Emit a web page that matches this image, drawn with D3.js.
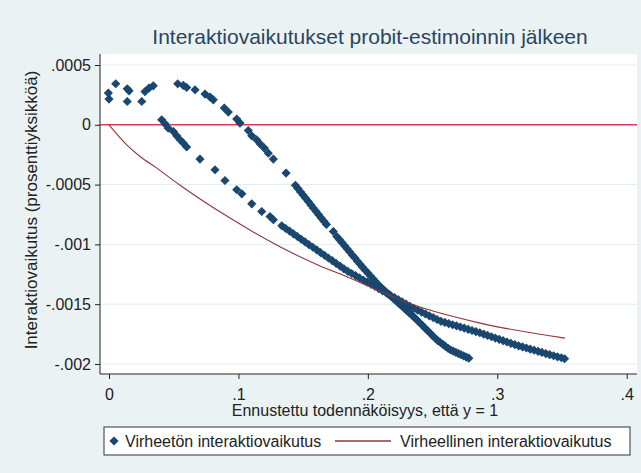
<!DOCTYPE html>
<html>
<head>
<meta charset="utf-8">
<script src="https://cdnjs.cloudflare.com/ajax/libs/d3/7.8.5/d3.min.js"></script>
<style>
  body { margin: 0; background: #eaf2f3; }
  text { font-family: "Liberation Sans", Arial, sans-serif; }
</style>
</head>
<body>
<div id="container"></div>
<script>
// scatter: correct interaction effect as [p, effect]
const startCluster = [[-0.0005, 0.000265], [0.0000, 0.000215], [0.0052, 0.000343], [0.0141, 0.000301], [0.0155, 0.000284],
  [0.0141, 0.000195], [0.0253, 0.000195], [0.0278, 0.000278], [0.0309, 0.000307], [0.0342, 0.000326]];

const steepBranch = [[0.0531, 0.000343], [0.0574, 0.000329], [0.0600, 0.000312], [0.0665, 0.000293], [0.0742, 0.000257],
  [0.0781, 0.000232], [0.0806, 0.000209], [0.0891, 0.000140], [0.0922, 0.000106], [0.0987, 0.000048], [0.1012, 0.000014],
  [0.1076, -0.000048], [0.1103, -0.000092], [0.1141, -0.000125], [0.1167, -0.000159], [0.1200, -0.000195], [0.1231, -0.000237],
  [0.1270, -0.000287], [0.1368, -0.000404],
  [0.144, -0.000506], [0.146, -0.000533], [0.148, -0.000561], [0.150, -0.000588], [0.152, -0.000615], [0.154, -0.000642],
  [0.156, -0.000670], [0.158, -0.000697], [0.160, -0.000724], [0.162, -0.000752], [0.164, -0.000779], [0.166, -0.000806],
  [0.168, -0.000833], [0.1733, -0.000892],
  [0.176, -0.000934], [0.178, -0.000960], [0.180, -0.000985], [0.182, -0.001011], [0.184, -0.001037], [0.186, -0.001063],
  [0.188, -0.001089], [0.190, -0.001114], [0.192, -0.001140], [0.194, -0.001166], [0.196, -0.001192], [0.198, -0.001216],
  [0.200, -0.001240], [0.202, -0.001264], [0.204, -0.001288], [0.206, -0.001312], [0.208, -0.001335], [0.210, -0.001358],
  [0.212, -0.001377], [0.214, -0.001397], [0.216, -0.001416], [0.218, -0.001436], [0.220, -0.001455], [0.222, -0.001474],
  [0.224, -0.001494], [0.226, -0.001513], [0.228, -0.001533], [0.230, -0.001552], [0.232, -0.001572], [0.234, -0.001591],
  [0.236, -0.001612], [0.238, -0.001633], [0.240, -0.001655], [0.242, -0.001676], [0.244, -0.001698], [0.246, -0.001719],
  [0.248, -0.001741], [0.250, -0.001763], [0.252, -0.001785], [0.254, -0.001804], [0.256, -0.001820], [0.258, -0.001836],
  [0.260, -0.001853], [0.262, -0.001869], [0.264, -0.001883], [0.266, -0.001893], [0.268, -0.001903], [0.270, -0.001913],
  [0.272, -0.001922], [0.274, -0.001932], [0.276, -0.001942], [0.278, -0.001951]];

const flatBranch = [[0.0407, 0.000042], [0.0433, 0.000008], [0.0458, -0.000028], [0.0497, -0.000056], [0.0523, -0.000092],
  [0.0549, -0.000125], [0.0574, -0.000153], [0.0600, -0.000186], [0.0703, -0.000287], [0.0819, -0.000376], [0.0896, -0.000466],
  [0.0987, -0.000543], [0.1026, -0.000577], [0.1103, -0.000661], [0.1180, -0.000725], [0.1244, -0.000767], [0.1270, -0.000794],
  [0.1335, -0.000844], [0.1365, -0.000867], [0.1395, -0.000889], [0.1425, -0.000912], [0.1455, -0.000934],
  [0.1485, -0.000957], [0.1515, -0.000979], [0.1545, -0.001002], [0.1575, -0.001024], [0.1605, -0.001046], [0.1635, -0.001069],
  [0.1665, -0.001091], [0.1695, -0.001114], [0.1725, -0.001136], [0.1755, -0.001159], [0.1785, -0.001181], [0.1815, -0.001204],
  [0.1845, -0.001225], [0.1875, -0.001243], [0.1905, -0.001261], [0.1935, -0.001280], [0.1965, -0.001298], [0.1995, -0.001316],
  [0.2025, -0.001334], [0.2055, -0.001352], [0.2085, -0.001371], [0.2115, -0.001389], [0.2145, -0.001407], [0.2175, -0.001425],
  [0.2205, -0.001444], [0.2235, -0.001462], [0.2265, -0.001480], [0.2295, -0.001498], [0.2325, -0.001517], [0.2355, -0.001535],
  [0.2385, -0.001550], [0.2415, -0.001566], [0.2445, -0.001581], [0.2475, -0.001597], [0.2505, -0.001612], [0.2535, -0.001628],
  [0.2565, -0.001643], [0.2595, -0.001652], [0.2625, -0.001662], [0.2655, -0.001672], [0.2685, -0.001681], [0.2715, -0.001691],
  [0.2745, -0.001700], [0.2775, -0.001710], [0.2805, -0.001720], [0.2835, -0.001729], [0.2865, -0.001739], [0.2895, -0.001750],
  [0.2925, -0.001761], [0.2955, -0.001772], [0.2985, -0.001783], [0.3015, -0.001794], [0.3045, -0.001805], [0.3075, -0.001816],
  [0.3105, -0.001827], [0.3135, -0.001838], [0.3165, -0.001848], [0.3195, -0.001857], [0.3225, -0.001866], [0.3255, -0.001876],
  [0.3285, -0.001885], [0.3315, -0.001894], [0.3345, -0.001903], [0.3375, -0.001913], [0.3405, -0.001922], [0.3435, -0.001931],
  [0.3465, -0.001940], [0.3495, -0.001948], [0.3520, -0.001956]];

// line: misspecified interaction effect
const wrongEffect = [[0, 0], [0.0137, -0.000167], [0.024, -0.000265], [0.0369, -0.000362], [0.0549, -0.000505],
  [0.0935, -0.00078], [0.1321, -0.00102], [0.1631, -0.00118], [0.1837, -0.00127], [0.2017, -0.001355],
  [0.2352, -0.001505], [0.2867, -0.001658], [0.3524, -0.001784]];

const xTicks = [0, 0.1, 0.2, 0.3, 0.4];
const xTickLabels = ["0", ".1", ".2", ".3", ".4"];
const yTicks = [0.0005, 0, -0.0005, -0.001, -0.0015, -0.002];
const yTickLabels = [".0005", "0", "-.0005", "-.001", "-.0015", "-.002"];
const legendLabels = ["Virheetön interaktiovaikutus", "Virheellinen interaktiovaikutus"];

const width = 641;
const height = 473;
const plot = { left: 100, right: 637, top: 54, bot: 374 };
const navy = "#1a476f";
const maroon = "#90353b";
const fontFamily = "Liberation Sans, Arial, sans-serif";

const svg = d3.select("#container")
              .append("svg")
              .attr("width", width)
              .attr("height", height);

svg.append("rect")
   .attr("width", width)
   .attr("height", height)
   .attr("fill", "#eaf2f3");

svg.append("rect")
   .attr("x", plot.left)
   .attr("y", plot.top)
   .attr("width", plot.right - plot.left)
   .attr("height", plot.bot - plot.top)
   .attr("fill", "#ffffff");

const xScale = d3.scaleLinear()
                 .domain([0, 0.4])
                 .range([109, 626.7]);
const yScale = d3.scaleLinear()
                 .domain([0.0005, -0.002])
                 .range([65, 364]);

// grid
svg.append("g")
   .selectAll("line")
   .data(yTicks)
   .enter()
   .append("line")
   .attr("x1", plot.left)
   .attr("x2", plot.right)
   .attr("y1", (d) => yScale(d))
   .attr("y2", (d) => yScale(d))
   .attr("stroke", "#e3ecef")
   .attr("stroke-width", 1);

// zero line
svg.append("line")
   .attr("x1", plot.left)
   .attr("x2", plot.right)
   .attr("y1", yScale(0))
   .attr("y2", yScale(0))
   .attr("stroke", "#dc3c5a")
   .attr("stroke-width", 1.5);

// axes
const xAxis = d3.axisBottom(xScale)
                .tickValues(xTicks)
                .tickFormat((d, i) => xTickLabels[i])
                .tickSize(5)
                .tickSizeOuter(0)
                .tickPadding(10);
const gx = svg.append("g")
              .attr("transform", "translate(0, " + plot.bot + ")")
              .call(xAxis)
              .attr("color", "#222")
              .attr("font-size", 16)
              .attr("font-family", fontFamily);
gx.select(".domain").remove();

const yAxis = d3.axisLeft(yScale)
                .tickValues(yTicks)
                .tickFormat((d, i) => yTickLabels[i])
                .tickSize(5)
                .tickSizeOuter(0)
                .tickPadding(4);
const gy = svg.append("g")
              .attr("transform", "translate(" + plot.left + ", 0)")
              .call(yAxis)
              .attr("color", "#222")
              .attr("font-size", 16)
              .attr("font-family", fontFamily);
gy.select(".domain").remove();

svg.append("line")
   .attr("x1", plot.left).attr("x2", plot.right)
   .attr("y1", plot.bot).attr("y2", plot.bot)
   .attr("stroke", "#222");
svg.append("line")
   .attr("x1", plot.left).attr("x2", plot.left)
   .attr("y1", plot.top).attr("y2", plot.bot)
   .attr("stroke", "#222");

// scatter
const diamond = d3.symbol().type(d3.symbolSquare).size(30);
svg.append("g")
   .selectAll("path")
   .data(startCluster.concat(steepBranch, flatBranch))
   .enter()
   .append("path")
   .attr("d", diamond)
   .attr("transform", (d) => "translate(" + xScale(d[0]) + "," + yScale(d[1]) + ") rotate(45)")
   .attr("fill", navy)
   .attr("stroke", navy)
   .attr("stroke-width", 1);

// line
svg.append("path")
   .datum(wrongEffect)
   .attr("d", d3.line().x((d) => xScale(d[0])).y((d) => yScale(d[1])).curve(d3.curveMonotoneX))
   .attr("fill", "none")
   .attr("stroke", maroon)
   .attr("stroke-width", 1.1);

// titles
svg.append("text")
   .text("Interaktiovaikutukset probit-estimoinnin jälkeen")
   .attr("x", 370)
   .attr("y", 44)
   .attr("text-anchor", "middle")
   .attr("font-size", 21)
   .attr("fill", "#2a4560");
svg.append("text")
   .text("Ennustettu todennäköisyys, että y = 1")
   .attr("x", 365)
   .attr("y", 416)
   .attr("text-anchor", "middle")
   .attr("font-size", 16)
   .attr("fill", "#222");
svg.append("text")
   .text("Interaktiovaikutus (prosenttiyksikköä)")
   .attr("transform", "translate(37, 210)rotate(270)")
   .attr("text-anchor", "middle")
   .attr("font-size", 17)
   .attr("fill", "#222");

// legend
const legend = svg.append("g").attr("id", "legend");
legend.append("rect")
      .attr("x", 104)
      .attr("y", 427)
      .attr("width", 526)
      .attr("height", 28)
      .attr("fill", "#ffffff")
      .attr("stroke", "#333")
      .attr("stroke-width", 1);
legend.append("path")
      .attr("d", diamond)
      .attr("transform", "translate(114, 441) rotate(45)")
      .attr("fill", navy)
      .attr("stroke", navy)
      .attr("stroke-width", 1);
legend.append("line")
      .attr("x1", 335).attr("x2", 391)
      .attr("y1", 441).attr("y2", 441)
      .attr("stroke", maroon)
      .attr("stroke-width", 1.5);
legend.selectAll("text")
      .data(legendLabels)
      .enter()
      .append("text")
      .text((d) => d)
      .attr("x", (d, i) => i == 0 ? 125 : 400)
      .attr("y", 447)
      .attr("font-size", 16)
      .attr("fill", "#222");
</script>
</body>
</html>
